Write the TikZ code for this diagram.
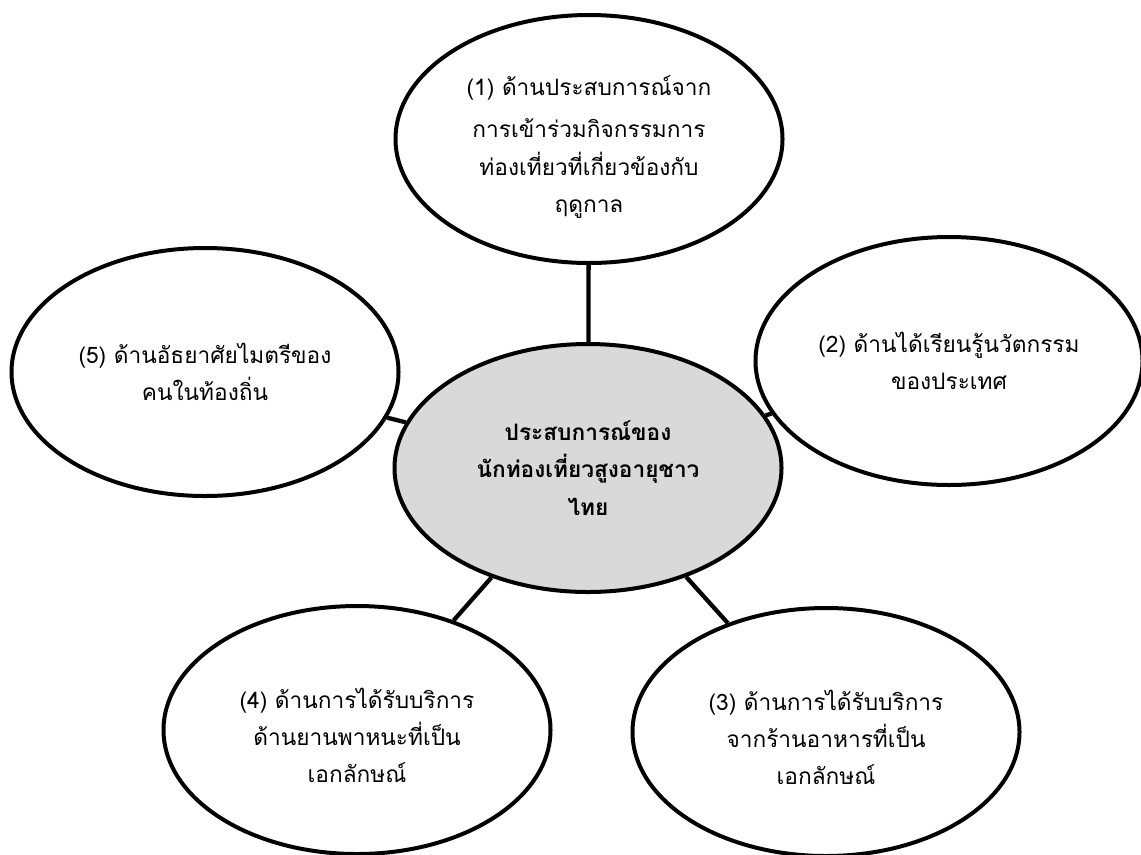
\documentclass[tikz,border=0pt]{standalone}
\usepackage{fontspec}
\newfontfamily\thaifont[Script=Thai]{Loma}
\usetikzlibrary{shapes.geometric}
\definecolor{hubgray}{HTML}{D9D9D9}
\tikzset{
  bubble/.style={ellipse, draw=black, line width=3pt, fill=white,
    minimum width=387*0.75pt, minimum height=248*0.75pt, inner sep=0pt,
    align=center, font=\thaifont\fontsize{17}{28}\selectfont},
  hub/.style={bubble, fill=hubgray, font=\thaifont\bfseries\fontsize{17}{28}\selectfont},
  link/.style={line width=3.2pt}
}
\begin{document}
\begin{tikzpicture}[x=0.75pt,y=-0.75pt]
\useasboundingbox (0,0) rectangle (1141,854);
\node[hub] (c) at (588,468) {ประสบการณ์ของ\\ นักท่องเที่ยวสูงอายุชาว\\ ไทย};
\node[bubble] (n1) at (589,139) {\raisebox{0pt}[\dimexpr\height+12pt\relax]{(1) ด้านประสบการณ์จาก}\\[4pt] การเข้าร่วมกิจกรรมการ\\ ท่องเที่ยวที่เกี่ยวข้องกับ\\ ฤดูกาล};
\node[bubble] (n2) at (949,361) {(2) ด้านได้เรียนรู้นวัตกรรม\\ ของประเทศ};
\node[bubble] (n3) at (826,732) {\raisebox{0pt}[\dimexpr\height+8pt\relax]{(3) ด้านการได้รับบริการ}\\ จากร้านอาหารที่เป็น\\ เอกลักษณ์};
\node[bubble] (n4) at (357,730) {\raisebox{0pt}[\dimexpr\height+8pt\relax]{(4) ด้านการได้รับบริการ}\\ ด้านยานพาหนะที่เป็น\\ เอกลักษณ์};
\node[bubble] (n5) at (205,372) {(5) ด้านอัธยาศัยไมตรีของ\\ คนในท้องถิ่น};
\draw[link] (c) -- (n1);
\draw[link] (c) -- (n2);
\draw[link] (c) -- (n3);
\draw[link] (c) -- (n4);
\draw[link] (c) -- (n5);
\end{tikzpicture}
\end{document}
